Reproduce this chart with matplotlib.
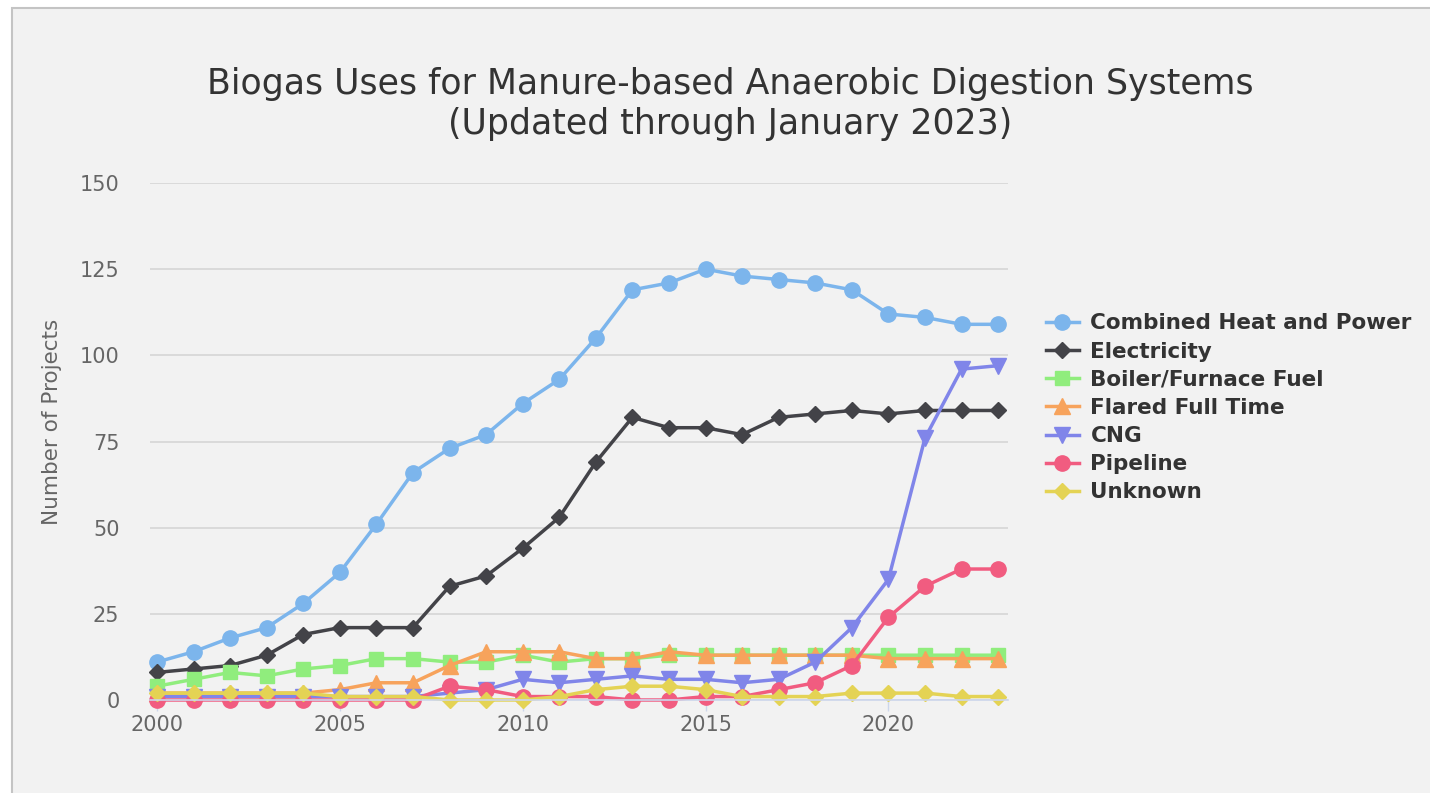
import matplotlib
matplotlib.use('Agg')
import matplotlib.pyplot as plt
from matplotlib.patches import Rectangle

years = list(range(2000, 2024))

chp = [11, 14, 18, 21, 28, 37, 51, 66, 73, 77, 86, 93, 105, 119, 121, 125,
       123, 122, 121, 119, 112, 111, 109, 109]
electricity = [8, 9, 10, 13, 19, 21, 21, 21, 33, 36, 44, 53, 69, 82, 79, 79,
               77, 82, 83, 84, 83, 84, 84, 84]
boiler = [4, 6, 8, 7, 9, 10, 12, 12, 11, 11, 13, 11, 12, 12, 13, 13,
          13, 13, 13, 13, 13, 13, 13, 13]
flared = [2, 2, 2, 2, 2, 3, 5, 5, 10, 14, 14, 14, 12, 12, 14, 13,
          13, 13, 13, 13, 12, 12, 12, 12]
cng = [1, 1, 1, 1, 1, 1, 1, 1, 2, 3, 6, 5, 6, 7, 6, 6,
       5, 6, 11, 21, 35, 76, 96, 97]
pipeline = [0, 0, 0, 0, 0, 0, 0, 0, 4, 3, 1, 1, 1, 0, 0, 1,
            1, 3, 5, 10, 24, 33, 38, 38]
unknown = [2, 2, 2, 2, 2, 1, 1, 1, 0, 0, 0, 1, 3, 4, 4, 3,
           1, 1, 1, 2, 2, 2, 1, 1]

series = [
    ('Combined Heat and Power', chp, '#7cb5ec', 'o', 11),
    ('Electricity', electricity, '#434348', 'D', 8),
    ('Boiler/Furnace Fuel', boiler, '#90ed7d', 's', 10),
    ('Flared Full Time', flared, '#f7a35c', '^', 11),
    ('CNG', cng, '#8085e9', 'v', 11),
    ('Pipeline', pipeline, '#f15c80', 'o', 11),
    ('Unknown', unknown, '#e4d354', 'D', 8),
]

bg = '#f2f2f2'
fig = plt.figure(figsize=(14.3, 7.93), dpi=100, facecolor='white')
# рамка скриншота
frame = Rectangle((12 / 1430, -0.01), 1.0, 1 - 8 / 793 + 0.01,
                  transform=fig.transFigure, facecolor=bg,
                  edgecolor='#c4c4c4', linewidth=1.5, zorder=-10)
fig.add_artist(frame)

ax = fig.add_axes([150 / 1430, 93 / 793, 858 / 1430, 517 / 793])
ax.set_facecolor(bg)
ax.set_zorder(1)

for name, vals, color, marker, ms in series:
    ax.plot(years, vals, color=color, marker=marker, markersize=ms,
            linewidth=2.5, label=name, clip_on=False)

ax.set_xlim(1999.81, 2023.27)
ax.set_ylim(0, 150)
ax.set_yticks([0, 25, 50, 75, 100, 125, 150])
ax.set_xticks([2000, 2005, 2010, 2015, 2020])
ax.grid(True, axis='y', color='#d6d6d6', linewidth=1.2)
ax.set_axisbelow(True)
for side in ['top', 'right', 'left']:
    ax.spines[side].set_visible(False)
ax.spines['bottom'].set_color('#ccd6eb')
ax.spines['bottom'].set_linewidth(1.2)
ax.tick_params(axis='y', length=0, labelsize=15, labelcolor='#666666', pad=22)
ax.tick_params(axis='x', length=8, width=1, color='#ccd6eb', labelsize=15,
               labelcolor='#666666', pad=3)
ax.set_ylabel('Number of Projects', fontsize=15.5, color='#666666')
ax.yaxis.set_label_coords(-88 / 858, 0.538)

fig.text(730 / 1430, 1 - 104 / 793,
         'Biogas Uses for Manure-based Anaerobic Digestion Systems\n(Updated through January 2023)',
         ha='center', va='center', fontsize=25, color='#333333', linespacing=1.2)

leg = ax.legend(loc='center left', bbox_to_anchor=(1.022, 0.565), frameon=False,
                prop={'weight': 'bold', 'size': 15.5}, handlelength=1.5,
                labelspacing=0.38, handletextpad=0.55)
for t in leg.get_texts():
    t.set_color('#333333')

fig.savefig('out.png', dpi=100, facecolor=fig.get_facecolor())
